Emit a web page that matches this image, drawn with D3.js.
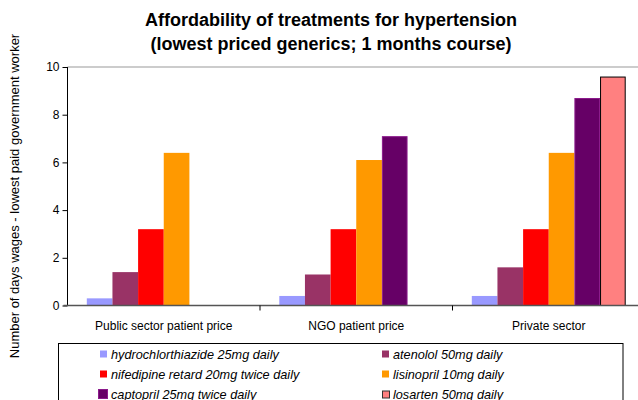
<!DOCTYPE html>
<html><head><meta charset="utf-8">
<script src="https://cdn.jsdelivr.net/npm/d3@7"></script>
<style>
html,body{margin:0;padding:0;background:#fff;}
svg{display:block;font-family:"Liberation Sans",Arial,sans-serif;}
</style></head>
<body><svg id="c" width="638" height="400"></svg>
<script>
const categories = ["Public sector patient price", "NGO patient price", "Private sector"];
const seriesNames = ["hydrochlorthiazide 25mg daily", "atenolol 50mg daily", "nifedipine retard 20mg twice daily", "lisinopril 10mg daily", "captopril 25mg twice daily", "losarten 50mg daily"];
const hydrochlorthiazide = [0.3, 0.4, 0.4];
const atenolol = [1.4, 1.3, 1.6];
const nifedipine = [3.2, 3.2, 3.2];
const lisinopril = [6.4, 6.1, 6.4];
const captopril = [null, 7.1, 8.7];
const losarten = [null, null, 9.6];
const yTicks = [0, 2, 4, 6, 8, 10];
const colors = ["#9999FF", "#993366", "#FF0000", "#FF9900", "#660066", "#FF8080"];
const strokes = [null, null, null, null, "#8B1A8B", "#000000"];

const seriesValues = [hydrochlorthiazide, atenolol, nifedipine, lisinopril, captopril, losarten];
const svg = d3.select("#c");

const pLeft = 67.5, pRight = 645, pTop = 67, pBottom = 305.5;
const x0 = d3.scaleBand().domain(categories).range([pLeft, pRight]).padding(0);
const bw = x0.bandwidth();
const inner = 19.3;
const x1 = d3.scaleBand().domain(d3.range(6)).range([inner, bw - inner]).padding(0);
const y = d3.scaleLinear().domain([0, 10]).range([pBottom, pTop]);

// title
svg.append("text").attr("x", 331).attr("y", 26).attr("text-anchor", "middle")
  .attr("font-size", 18).attr("font-weight", "bold").text("Affordability of treatments for hypertension");
svg.append("text").attr("x", 331).attr("y", 49.5).attr("text-anchor", "middle")
  .attr("font-size", 18).attr("font-weight", "bold").text("(lowest priced generics; 1 months course)");

// top border
svg.append("line").attr("x1", pLeft).attr("x2", 638).attr("y1", pTop).attr("y2", pTop)
  .attr("stroke", "#bbbbbb").attr("stroke-width", 1.5);

// bars
const g = svg.append("g");
seriesValues.forEach((vals, si) => {
  vals.forEach((v, ci) => {
    if (v == null) return;
    const xx = x0(categories[ci]) + x1(si);
    const r = g.append("rect").attr("x", xx).attr("y", y(v)).attr("width", x1.bandwidth())
      .attr("height", y(0) - y(v)).attr("fill", colors[si]);
    if (strokes[si]) {
      r.attr("x", xx + 0.5).attr("y", y(v) + 0.5).attr("width", x1.bandwidth() - 1).attr("height", y(0) - y(v) - 0.5)
       .attr("stroke", strokes[si]).attr("stroke-width", 1);
    }
  });
});

// y axis
const yAxis = d3.axisLeft(y).tickValues(yTicks).tickSize(5).tickPadding(3).tickFormat(d3.format("d"));
const ya = svg.append("g").attr("transform", `translate(${pLeft},0)`).call(yAxis);
ya.select(".domain").attr("stroke", "#000").attr("d", `M0,${pTop}V${pBottom}`);
ya.selectAll(".tick line").attr("stroke", "#000");
ya.selectAll("text").attr("font-size", 12).attr("font-family", "Liberation Sans, Arial, sans-serif").attr("fill", "#000");

// x axis
const xa = svg.append("g").attr("transform", `translate(0,${pBottom})`);
xa.append("line").attr("x1", pLeft - 4).attr("x2", 638).attr("y1", 0).attr("y2", 0).attr("stroke", "#555").attr("stroke-width", 1.5);
const bounds = categories.map(c => x0(c)).concat([pRight]);
bounds.slice(1).forEach(b => {
  xa.append("line").attr("x1", b).attr("x2", b).attr("y1", 0).attr("y2", 5).attr("stroke", "#000");
});
categories.forEach(c => {
  xa.append("text").attr("x", x0(c) + bw / 2).attr("y", 24).attr("text-anchor", "middle")
    .attr("font-size", 12).text(c);
});

// y label
svg.append("text").attr("transform", "translate(19,196) rotate(-90)").attr("text-anchor", "middle")
  .attr("font-size", 13).text("Number of days wages - lowest paid government worker");

// legend
svg.append("rect").attr("x", 58.5).attr("y", 343.5).attr("width", 564.5).attr("height", 70)
  .attr("fill", "none").attr("stroke", "#000").attr("stroke-width", 1);
const legPos = [[100, 354], [382, 354], [100, 374], [382, 374], [100, 394], [382, 394]];
seriesNames.forEach((name, i) => {
  const [lx, ly] = legPos[i];
  const big = i === 4;
  const s = big ? 9 : 7;
  const r = svg.append("rect").attr("x", big ? lx - 1.5 : lx).attr("y", ly - s / 2).attr("width", s).attr("height", s)
    .attr("fill", colors[i]);
  if (i === 5) r.attr("x", lx + 0.5).attr("y", ly - 3).attr("width", 7).attr("height", 7).attr("stroke", "#333").attr("stroke-width", 1);
  if (i === 4) r.attr("stroke", "#8B1A8B").attr("stroke-width", 1);
  svg.append("text").attr("x", lx + 11).attr("y", ly + 4.5).attr("font-size", 12.7)
    .attr("font-style", "italic").text(name);
});
</script></body></html>
